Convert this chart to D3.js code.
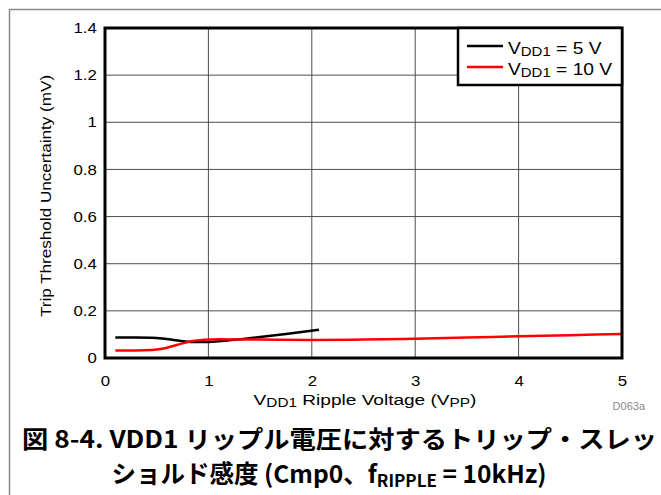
<!DOCTYPE html>
<html><head><meta charset="utf-8">
<script src="https://cdn.jsdelivr.net/npm/d3@7"></script>
<style>body{margin:0;background:#fff}svg{display:block}</style>
</head><body>
<svg id="c" width="661" height="495"></svg>
<script>
const xTicks = [0,1,2,3,4,5];
const yTicks = [0,0.2,0.4,0.6,0.8,1,1.2,1.4];
const yTickLabels = ["0","0.2","0.4","0.6","0.8","1","1.2","1.4"];
const seriesNames = ["5 V","10 V"];
const x5V = [0.1,0.3,0.45,0.55,0.65,0.75,0.85,1.0,1.25,1.5,1.75,2.07];
const y5V = [0.087,0.087,0.086,0.083,0.077,0.071,0.068,0.068,0.077,0.089,0.102,0.120];
const x10V = [0.1,0.3,0.45,0.55,0.65,0.75,0.85,0.95,1.1,1.5,2,2.5,3,3.5,4,4.5,5];
const y10V = [0.032,0.032,0.034,0.039,0.050,0.062,0.072,0.077,0.080,0.078,0.076,0.078,0.082,0.087,0.092,0.097,0.102];
const colors = ["#000000","#ff0000"];

const svg = d3.select("#c");
const L=105,R=622,T=28,B=358;
const x = d3.scaleLinear().domain([0,5]).range([L,R]);
const y = d3.scaleLinear().domain([0,1.4]).range([B,T]);
const font = "'Liberation Sans', Arial, sans-serif";
const SX = 1.16;

// outer frame
svg.append("path").attr("d","M9.5,495 V9.5 H661").attr("fill","none").attr("stroke","#8a8a8a").attr("stroke-width",1.5);

// grid
svg.append("g").selectAll("line").data(xTicks.slice(1,-1)).join("line")
  .attr("x1",d=>x(d)).attr("x2",d=>x(d)).attr("y1",T).attr("y2",B)
  .attr("stroke","#4d4d4d").attr("stroke-width",1);
svg.append("g").selectAll("line").data(yTicks.slice(1,-1)).join("line")
  .attr("y1",d=>y(d)).attr("y2",d=>y(d)).attr("x1",L).attr("x2",R)
  .attr("stroke","#4d4d4d").attr("stroke-width",1);

// axes labels via d3 axes
const xAxis = d3.axisBottom(x).tickValues(xTicks).tickSize(0).tickPadding(18).tickFormat(d3.format("d"));
const gx = svg.append("g").attr("transform",`translate(0,${B})`).call(xAxis);
gx.select(".domain").remove();
gx.selectAll("text").attr("font-family",font).attr("font-size",14.5).attr("fill","#000")
  .attr("transform",`scale(${SX},1)`);
const yAxis = d3.axisLeft(y).tickValues(yTicks).tickSize(0).tickPadding(7).tickFormat((d,i)=>yTickLabels[i]);
const gy = svg.append("g").attr("transform",`translate(${L},0)`).call(yAxis);
gy.select(".domain").remove();
gy.selectAll("text").attr("font-family",font).attr("font-size",14.5).attr("fill","#000")
  .attr("transform",`scale(${SX},1)`);

// lines
const line = d3.line().curve(d3.curveMonotoneX);
const data = [x5V.map((v,i)=>[x(v),y(y5V[i])]), x10V.map((v,i)=>[x(v),y(y10V[i])])];
svg.append("g").selectAll("path").data(data).join("path")
  .attr("d",d=>line(d)).attr("fill","none")
  .attr("stroke",(d,i)=>colors[i]).attr("stroke-width",2.5);

// plot frame
svg.append("rect").attr("x",L).attr("y",T).attr("width",R-L).attr("height",B-T)
  .attr("fill","none").attr("stroke","#000").attr("stroke-width",3);

// legend
const lg = svg.append("g");
lg.append("rect").attr("x",458).attr("y",T).attr("width",R-458).attr("height",57)
  .attr("fill","#fff").attr("stroke","#000").attr("stroke-width",2.5);
seriesNames.forEach((n,i)=>{
  const yy = 46 + i*21;
  lg.append("line").attr("x1",467).attr("x2",503).attr("y1",yy).attr("y2",yy)
    .attr("stroke",colors[i]).attr("stroke-width",2.5);
  const t = lg.append("text").attr("transform",`translate(508,${yy+8}) scale(1.2,1)`)
    .attr("font-family",font).attr("font-size",16);
  t.append("tspan").text("V");
  t.append("tspan").attr("font-size",12.5).attr("dy",2).text("DD1");
  t.append("tspan").attr("dy",-2).text(" = "+n);
});

// y title
svg.append("text").attr("transform","translate(51,196) rotate(-90) scale(1.18,1)").attr("text-anchor","middle")
  .attr("font-family",font).attr("font-size",14.5).text("Trip Threshold Uncertainty (mV)");
// x title
const xt = svg.append("text").attr("transform","translate(365,405) scale(1.23,1)").attr("text-anchor","middle")
  .attr("font-family",font).attr("font-size",15.5);
xt.append("tspan").text("V");
xt.append("tspan").attr("font-size",12.5).attr("dy",2).text("DD1");
xt.append("tspan").attr("dy",-2).text(" Ripple Voltage (V");
xt.append("tspan").attr("font-size",12.5).attr("dy",2).text("PP");
xt.append("tspan").attr("dy",-2).text(")");
svg.append("text").attr("x",645).attr("y",410).attr("text-anchor","end")
  .attr("font-family",font).attr("font-size",11).attr("fill","#888").text("D063a");

// caption
const cf = "'Noto Sans CJK JP', 'Liberation Sans', sans-serif";
svg.append("text").attr("x",22).attr("y",448).attr("font-family",cf).attr("font-weight","bold")
  .attr("font-size",24).attr("textLength",635).attr("lengthAdjust","spacingAndGlyphs")
  .text("図 8-4. VDD1 リップル電圧に対するトリップ・スレッ");
const c2 = svg.append("text").attr("x",329).attr("y",483).attr("text-anchor","middle")
  .attr("font-family",cf).attr("font-weight","bold").attr("font-size",24.5);
c2.append("tspan").text("ショルド感度 (Cmp0、f");
c2.append("tspan").attr("font-size",17).attr("dy",4).text("RIPPLE");
c2.append("tspan").attr("dy",-4).text(" = 10kHz)");
</script>
</body></html>
